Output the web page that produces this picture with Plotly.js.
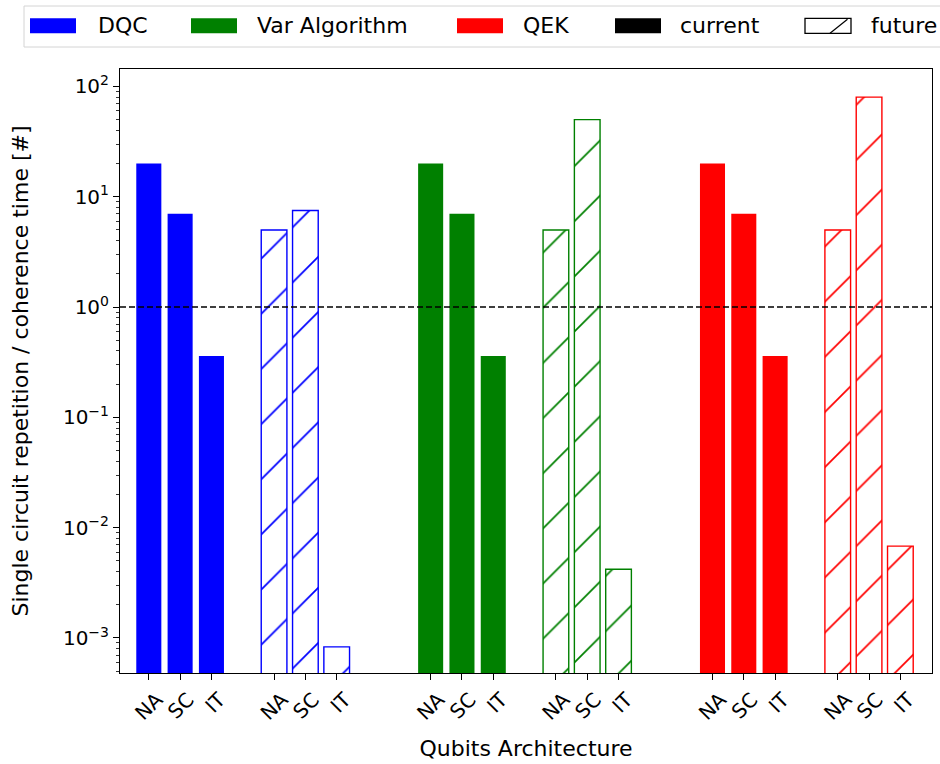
<!DOCTYPE html>
<html><head><meta charset="utf-8">
<script src="https://cdn.plot.ly/plotly-3.0.1.min.js"></script>
<style>html,body{margin:0;padding:0;background:#fff;} #chart{width:940px;height:764px;}</style>
</head><body><div id="chart"></div><script>
// ---------- data ----------
const architectures = ['NA', 'SC', 'IT'];
const algorithms = ['DQC', 'Var Algorithm', 'QEK'];
const phases = ['current', 'future'];
const dqcCurrent = [20, 7, 0.36];
const dqcFuture = [5, 7.5, 0.00083];
const varCurrent = [20, 7, 0.36];
const varFuture = [5, 50, 0.0042];
const qekCurrent = [20, 7, 0.36];
const qekFuture = [5, 80, 0.0068];
const threshold = 1;
const yTickValues = [0.001, 0.01, 0.1, 1, 10, 100];
const yTickLabels = ['10<sup>\u22123</sup>', '10<sup>\u22122</sup>', '10<sup>\u22121</sup>', '10<sup>0</sup>', '10<sup>1</sup>', '10<sup>2</sup>'];

// ---------- style ----------
const algColors = ['#0000ff', '#008000', '#ff0000'];
const FONT = 'DejaVu Sans, Liberation Sans, sans-serif';
const W = 940, H = 764;
const M = {l: 120, r: 8, t: 69, b: 91};
const PW = W - M.l - M.r, PH = H - M.t - M.b;
const px = x => (x - M.l) / PW;
const py = y => (H - M.b - y) / PH;

const currentVals = [dqcCurrent, varCurrent, qekCurrent];
const futureVals = [dqcFuture, varFuture, qekFuture];
const groupStride = 9, futureOffset = 4;

const traces = [];
const tickPos = [], tickText = [];
algorithms.forEach((alg, g) => {
  const xc = architectures.map((_, i) => g * groupStride + i);
  const xf = architectures.map((_, i) => g * groupStride + futureOffset + i);
  traces.push({
    type: 'bar', name: alg + ' ' + phases[0], x: xc, y: currentVals[g], width: 0.8,
    marker: {color: algColors[g], line: {width: 0}}, showlegend: false, hoverinfo: 'x+y'
  });
  traces.push({
    type: 'bar', name: alg + ' ' + phases[1], x: xf, y: futureVals[g], width: 0.82,
    marker: {color: 'white', line: {color: algColors[g], width: 1.4},
      pattern: {shape: '/', fgcolor: algColors[g], bgcolor: 'white', size: 39, solidity: 0.045, fillmode: 'replace'}},
    showlegend: false, hoverinfo: 'x+y'
  });
  xc.forEach((v, i) => { tickPos.push(v); tickText.push(architectures[i]); });
  xf.forEach((v, i) => { tickPos.push(v); tickText.push(architectures[i]); });
});

// minor log ticks
const minorVals = [];
for (let e = -4; e <= 2; e++) for (let d = 2; d <= 9; d++) minorVals.push(d * Math.pow(10, e));

// ---------- custom legend (matplotlib style) ----------
const shapes = [];
const annotations = [];
shapes.push({type: 'line', xref: 'paper', yref: 'y', x0: 0, x1: 1, y0: threshold, y1: threshold,
  line: {color: 'black', width: 1.5, dash: '6px,3px'}});
shapes.push({type: 'rect', xref: 'paper', yref: 'paper', x0: px(24), x1: px(960), y0: py(6), y1: py(47),
  line: {color: '#d4d4d4', width: 1}, fillcolor: 'white', layer: 'above'});
const legendLabels = algorithms.concat(phases);
const legendFill = algColors.concat(['black', 'white']);
const patchX = [30, 191, 457, 615, 805];
const textX = [96, 255, 521, 678, 869];
legendLabels.forEach((lab, k) => {
  shapes.push({type: 'rect', xref: 'paper', yref: 'paper', x0: px(patchX[k]), x1: px(patchX[k] + 46),
    y0: py(18.3), y1: py(33.3), fillcolor: legendFill[k],
    line: {color: k === 4 ? 'black' : legendFill[k], width: k === 4 ? 1.3 : 0}, layer: 'above'});
  annotations.push({xref: 'paper', yref: 'paper', x: px(textX[k]), y: py(25.5), text: lab,
    showarrow: false, xanchor: 'left', yanchor: 'middle', font: {family: FONT, size: 22, color: 'black'}});
});
shapes.push({type: 'line', xref: 'paper', yref: 'paper', x0: px(830), y0: py(33.3), x1: px(847.5), y1: py(19.3),
  line: {color: 'black', width: 1.3}, layer: 'above'});

const layout = {
  width: W, height: H, margin: M,
  paper_bgcolor: 'white', plot_bgcolor: 'white',
  font: {family: FONT, size: 20, color: 'black'},
  barmode: 'overlay', showlegend: false,
  xaxis: {
    range: [-0.92, 25.01], tickmode: 'array', tickvals: tickPos, ticktext: tickText,
    tickangle: -45, ticks: 'outside', ticklen: 6, tickwidth: 1, tickcolor: 'black',
    showline: true, linecolor: 'black', linewidth: 1, mirror: true, showgrid: false, zeroline: false,
    tickfont: {family: FONT, size: 20, color: 'black'}, ticklabelshift: 8,
    title: {text: 'Qubits Architecture', font: {family: FONT, size: 22, color: 'black'}, standoff: 16}
  },
  yaxis: {
    type: 'log', range: [-3.318, 2.158], tickmode: 'array', tickvals: yTickValues, ticktext: yTickLabels,
    ticks: 'outside', ticklen: 6, tickwidth: 1, tickcolor: 'black',
    minor: {tickmode: 'array', tickvals: minorVals, ticks: 'outside', ticklen: 3.5, tickwidth: 0.8, tickcolor: 'black', showgrid: false},
    showline: true, linecolor: 'black', linewidth: 1, mirror: true, showgrid: false, zeroline: false,
    tickfont: {family: FONT, size: 20, color: 'black'},
    title: {text: 'Single circuit repetition / coherence time [#]', font: {family: FONT, size: 22, color: 'black'}, standoff: 28}
  },
  shapes: shapes, annotations: annotations
};

Plotly.newPlot('chart', traces, layout, {displayModeBar: false, staticPlot: true});
</script></body></html>
